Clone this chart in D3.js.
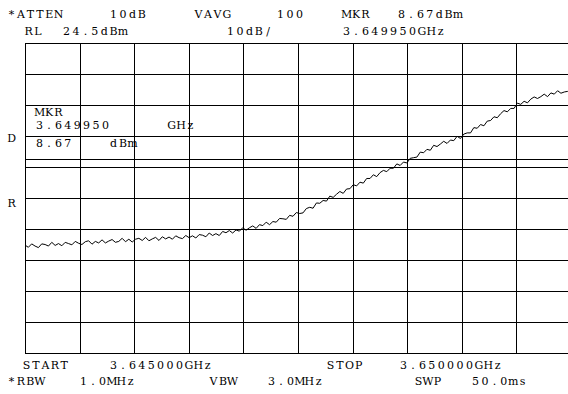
<!DOCTYPE html>
<html>
<head>
<meta charset="utf-8">
<script src="https://cdn.jsdelivr.net/npm/d3@7"></script>
<style>
  html, body { margin: 0; padding: 0; background: #fff; overflow: hidden; }
  text { font-family: "DejaVu Serif", "Liberation Serif", serif; font-size: 11px; fill: #000; text-anchor: middle; }
</style>
</head>
<body>
<div id="chart"></div>
<script>
// Analyzer settings
const startGHz = 3.645;
const stopGHz = 3.650;
const refLevel = 24.5;     // dBm
const dbPerDiv = 10;
const markerGHz = 3.64995;
const markerDbm = 8.67;
const displayLine = -12.9; // dBm

// Trace amplitudes (dBm), equally spaced sweep points from START to STOP
const trace = [
  -40.7, -41.4, -40.3, -41.0, -41.5, -40.3, -40.5, -41.0, -39.8, -40.8,
  -40.2, -40.9, -39.8, -40.2, -40.6, -39.5, -40.1, -40.5, -39.6, -39.3,
  -40.4, -39.5, -40.0, -39.0, -40.0, -39.4, -38.9, -39.8, -39.5, -38.5,
  -39.6, -38.8, -39.7, -38.8, -38.5, -39.2, -38.2, -39.3, -38.7, -38.2,
  -39.2, -38.0, -38.7, -38.1, -38.8, -37.7, -38.3, -38.6, -37.6, -38.3,
  -37.7, -38.4, -37.3, -37.5, -38.0, -36.8, -37.6, -37.0, -37.6, -36.3,
  -36.7, -36.0, -36.8, -35.8, -36.2, -35.1, -35.9, -35.1, -34.5, -35.3,
  -34.1, -34.4, -33.3, -34.1, -33.1, -33.3, -32.1, -32.2, -32.4, -31.1,
  -31.4, -30.2, -30.5, -30.3, -28.9, -28.5, -28.8, -27.1, -27.2, -26.3,
  -26.5, -24.9, -25.3, -24.3, -23.4, -24.0, -22.6, -22.5, -21.2, -21.6,
  -20.4, -20.7, -19.2, -19.2, -18.0, -18.6, -17.3, -16.6, -17.0, -15.9,
  -15.9, -14.5, -15.0, -13.9, -14.2, -12.7, -12.5, -12.3, -10.7, -10.9,
  -9.8, -10.1, -8.5, -8.9, -8.1, -7.2, -7.9, -6.8, -7.0, -5.6,
  -6.3, -4.9, -4.5, -4.5, -2.8, -3.0, -1.8, -2.2, -0.7, -0.5,
  0.7, 0.4, 1.7, 2.7, 2.3, 3.4, 3.4, 5.1, 4.7, 5.7,
  5.2, 6.4, 7.1, 6.6, 7.2, 8.0, 7.2, 8.4, 8.0, 9.1,
  8.3, 8.7, 8.9, 9.9
];

// Annotation text
const topRow1 = [
  { text: "*ATTEN", x: 8 }, { text: "10dB", x: 110 },
  { text: "VAVG", x: 195 }, { text: "100", x: 277 },
  { text: "MKR", x: 343 }, { text: markerDbm.toFixed(2) + "dBm", x: 398 }
];
const topRow2 = [
  { text: "RL", x: 25 }, { text: refLevel.toFixed(1) + "dBm", x: 63 },
  { text: dbPerDiv + "dB/", x: 227 }, { text: markerGHz.toFixed(6) + "GHz", x: 343 }
];
const bottomRow1 = [
  { text: "START", x: 23 }, { text: startGHz.toFixed(6) + "GHz", x: 110 },
  { text: "STOP", x: 327 }, { text: stopGHz.toFixed(6) + "GHz", x: 400 }
];
const bottomRow2 = [
  { text: "*RBW", x: 8 }, { text: "1.0MHz", x: 80 },
  { text: "VBW", x: 210 }, { text: "3.0MHz", x: 268 },
  { text: "SWP", x: 415 }, { text: "50.0ms", x: 472 }
];

const width = 568;
const height = 394;
const plot = { left: 25, top: 43, width: 546, height: 310 };
const charAdvance = 9.4; // fixed character cell, like the instrument's screen font

const svg = d3.select("#chart")
    .append("svg")
    .attr("width", width)
    .attr("height", height);

// Scales
const x = d3.scaleLinear()
    .domain([startGHz, stopGHz])
    .range([plot.left, plot.left + plot.width]);

const y = d3.scaleLinear()
    .domain([refLevel - 10 * dbPerDiv, refLevel])
    .range([plot.top + plot.height, plot.top]);

const idx = d3.scaleLinear()
    .domain([0, trace.length - 1])
    .range([startGHz, stopGHz]);

// Graticule
const grid = svg.append("g")
    .attr("stroke", "#000")
    .attr("stroke-width", 1)
    .attr("shape-rendering", "crispEdges");

grid.selectAll("line.v")
    .data(x.ticks(10))
    .enter().append("line")
    .attr("class", "v")
    .attr("x1", d => Math.round(x(d)) + 0.5)
    .attr("x2", d => Math.round(x(d)) + 0.5)
    .attr("y1", plot.top)
    .attr("y2", plot.top + plot.height);

grid.selectAll("line.h")
    .data(d3.range(0, 11).map(i => refLevel - i * dbPerDiv))
    .enter().append("line")
    .attr("class", "h")
    .attr("x1", plot.left)
    .attr("x2", plot.left + plot.width)
    .attr("y1", d => Math.round(y(d)) + 0.5)
    .attr("y2", d => Math.round(y(d)) + 0.5);

// Display line
grid.append("line")
    .attr("x1", plot.left)
    .attr("x2", plot.left + plot.width)
    .attr("y1", Math.round(y(displayLine)) + 0.5)
    .attr("y2", Math.round(y(displayLine)) + 0.5);

// Trace
const line = d3.line()
    .x((d, i) => x(idx(i)))
    .y(d => y(d));

svg.append("path")
    .datum(trace)
    .attr("d", line)
    .attr("fill", "none")
    .attr("stroke", "#000")
    .attr("stroke-width", 1);

// Annotations: each character centred in its own fixed-width cell
function row(items, baseline) {
    svg.append("g")
        .selectAll("text")
        .data(items)
        .enter().append("text")
        .attr("x", d => Array.from(d.text).map((c, i) => (d.x + 3.6 + i * charAdvance).toFixed(1)).join(" "))
        .attr("y", baseline)
        .text(d => d.text);
}
row(topRow1, 18);
row(topRow2, 35);
row(bottomRow1, 369);
row(bottomRow2, 385);

// Side letters
row([{ text: "D", x: 8 }], 142);
row([{ text: "R", x: 8 }], 207);

// Marker readout inside the graticule
row([{ text: "MKR", x: 36 }], 116);
row([{ text: markerGHz.toFixed(6).slice(0, 8), x: 36 }, { text: "GHz", x: 168 }], 129);
row([{ text: markerDbm.toFixed(2), x: 36 }, { text: "dBm", x: 110 }], 147);
</script>
</body>
</html>
